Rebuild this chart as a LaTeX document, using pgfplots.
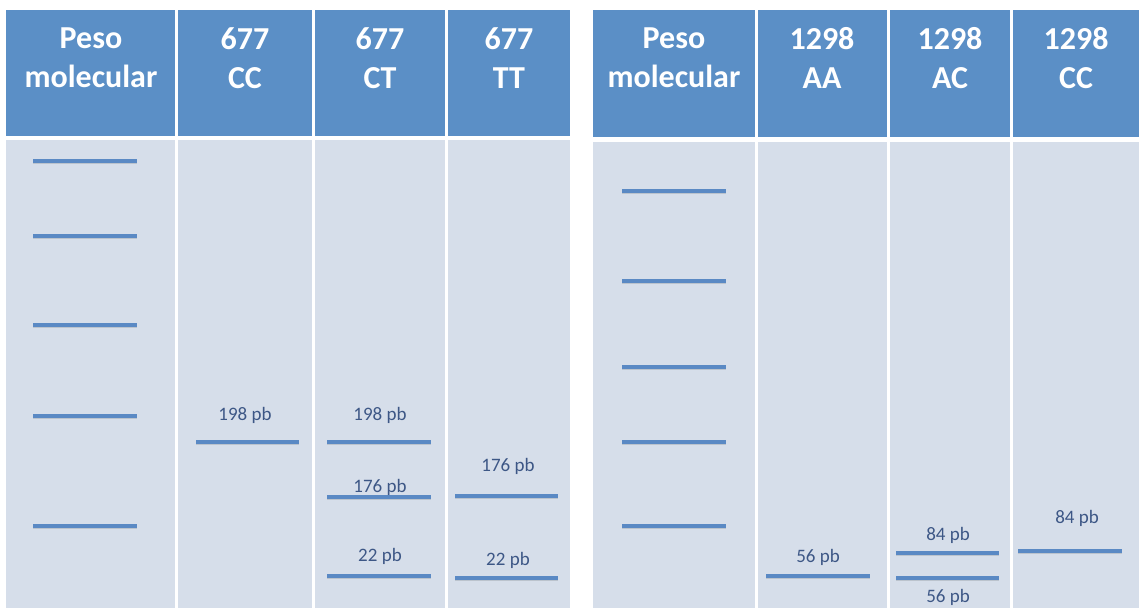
\documentclass[border=0pt]{standalone}
\usepackage{fontspec}
\setmainfont{Carlito}
\usepackage{pgfplots}
\pgfplotsset{compat=1.18}
\definecolor{headblue}{HTML}{5B8FC6}
\definecolor{lanebg}{HTML}{D6DEEA}
\definecolor{bandblue}{HTML}{5A89C4}
\definecolor{labtext}{HTML}{3D5786}

\begin{document}
\begin{tikzpicture}[
    band/.style={bandblue, line width=3.6pt,
        preaction={draw, black, opacity=0.12, line width=3.6pt, transform canvas={yshift=-1.6pt}}},
    head/.style={white, font=\fontsize{32}{39}\selectfont\bfseries, align=center},
    lab/.style={labtext, font=\fontsize{19}{22}\selectfont}
]
\begin{axis}[
    width=1139pt, height=608pt,
    scale only axis,
    xmin=0, xmax=1139, ymin=0, ymax=608,
    y dir=reverse,
    hide axis,
    clip=false,
    unbounded coords=jump
]
% page and cells
\fill[white] (axis cs:0,0) rectangle (axis cs:1139,608);
% left table
\fill[headblue] (axis cs:6,10) rectangle (axis cs:175,136);
\fill[headblue] (axis cs:178,10) rectangle (axis cs:312,136);
\fill[headblue] (axis cs:315,10) rectangle (axis cs:445,136);
\fill[headblue] (axis cs:448,10) rectangle (axis cs:570,136);
\fill[lanebg] (axis cs:6,140) rectangle (axis cs:175,608);
\fill[lanebg] (axis cs:178,140) rectangle (axis cs:312,608);
\fill[lanebg] (axis cs:315,140) rectangle (axis cs:445,608);
\fill[lanebg] (axis cs:448,140) rectangle (axis cs:570,608);
% right table
\fill[headblue] (axis cs:593,10) rectangle (axis cs:755,137);
\fill[headblue] (axis cs:758,10) rectangle (axis cs:887,137);
\fill[headblue] (axis cs:890,10) rectangle (axis cs:1010,137);
\fill[headblue] (axis cs:1013,10) rectangle (axis cs:1139,137);
\fill[lanebg] (axis cs:593,142) rectangle (axis cs:755,608);
\fill[lanebg] (axis cs:758,142) rectangle (axis cs:887,608);
\fill[lanebg] (axis cs:890,142) rectangle (axis cs:1010,608);
\fill[lanebg] (axis cs:1013,142) rectangle (axis cs:1139,608);

% headers
\node[head] at (axis cs:91,58) {Peso\\molecular};
\node[head] at (axis cs:245,58) {677\\CC};
\node[head] at (axis cs:380,58) {677\\CT};
\node[head] at (axis cs:509,58) {677\\TT};
\node[head] at (axis cs:674,58) {Peso\\molecular};
\node[head] at (axis cs:822,58) {1298\\AA};
\node[head] at (axis cs:950,58) {1298\\AC};
\node[head] at (axis cs:1076,58) {1298\\CC};

% ladder, 677 table
\addplot[band] table {
x y
33 161
137 161
nan nan
33 236
137 236
nan nan
33 325
137 325
nan nan
33 416
137 416
nan nan
33 526
137 526
};
% 677 CC
\addplot[band] table {
x y
196 442
299 442
};
% 677 CT
\addplot[band] table {
x y
327 442
431 442
nan nan
327 497
431 497
nan nan
327 576
431 576
};
% 677 TT
\addplot[band] table {
x y
455 496
558 496
nan nan
455 578
558 578
};
% ladder, 1298 table
\addplot[band] table {
x y
622 191
726 191
nan nan
622 281
726 281
nan nan
622 367
726 367
nan nan
622 442
726 442
nan nan
622 526
726 526
};
% 1298 AA
\addplot[band] table {
x y
766 576
870 576
};
% 1298 AC
\addplot[band] table {
x y
896 553
999 553
nan nan
896 578
999 578
};
% 1298 CC
\addplot[band] table {
x y
1018 551
1122 551
};

% band labels
\node[lab] at (axis cs:245,415) {198 pb};
\node[lab] at (axis cs:380,415) {198 pb};
\node[lab] at (axis cs:380,487) {176 pb};
\node[lab] at (axis cs:380,556) {22 pb};
\node[lab] at (axis cs:508,466) {176 pb};
\node[lab] at (axis cs:508,560) {22 pb};
\node[lab] at (axis cs:818,557) {56 pb};
\node[lab] at (axis cs:948,535) {84 pb};
\node[lab] at (axis cs:948,597) {56 pb};
\node[lab] at (axis cs:1077,518) {84 pb};
\end{axis}
\end{tikzpicture}
\end{document}
